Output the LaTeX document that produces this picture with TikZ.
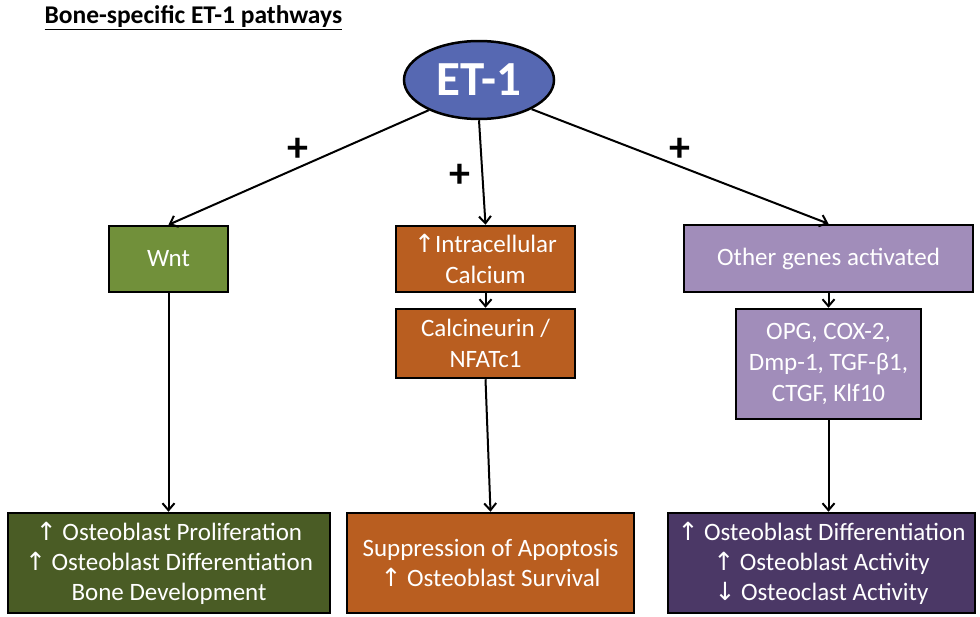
\documentclass[tikz,border=0pt]{standalone}
\usepackage{fontspec}
\setmainfont{Carlito}
\newfontfamily\arr{DejaVu Sans}
\usetikzlibrary{shapes.geometric,arrows.meta}
\definecolor{etblue}{HTML}{5668B2}
\definecolor{wntg}{HTML}{71903A}
\definecolor{dgreen}{HTML}{4A5C25}
\definecolor{orng}{HTML}{B95E20}
\definecolor{lav}{HTML}{A18DBA}
\definecolor{dpurp}{HTML}{4B3866}
\newcommand{\up}{{\arr\char"2191}}
\newcommand{\dn}{{\arr\char"2193}}
\tikzset{
  box/.style={draw=black, line width=2.5pt, text=white, align=center, inner sep=2pt, font=\fontsize{25}{31}\selectfont},
  bigbox/.style={box, font=\fontsize{25}{30}\selectfont},
  conn/.style={draw=black, line width=2pt, -{Straight Barb[length=7pt,width=12pt,line width=2pt]}},
  plus/.style={font=\bfseries\fontsize{42}{42}\selectfont}
}
\begin{document}
\begin{tikzpicture}[x=1pt,y=-1pt]
\useasboundingbox (0,0) rectangle (980,616);
\node[anchor=west, font=\bfseries\fontsize{25.5}{25.5}\selectfont] (title) at (41,18) {\underline{Bone-specific ET-1 pathways}};
\node[ellipse, draw=black, line width=2.5pt, fill=etblue, text=white, minimum width=150pt, minimum height=78pt, inner sep=0pt, font=\bfseries\fontsize{49}{49}\selectfont] (et) at (479,80) {ET-1};
\node[box, fill=wntg, minimum width=119pt, minimum height=66pt] (wnt) at (168.5,259) {Wnt};
\node[box, fill=orng, minimum width=179pt, minimum height=66pt] (ca) at (485.5,259) {\up Intracellular\\Calcium};
\node[box, fill=orng, minimum width=179pt, minimum height=69pt] (cal) at (485.5,343.5) {Calcineurin /\\NFATc1};
\node[box, fill=lav, minimum width=289pt, minimum height=67pt] (oth) at (828.5,258.5) {Other genes activated};
\node[box, fill=lav, minimum width=185pt, minimum height=110pt] (opg) at (828.5,364) {OPG, COX-2,\\Dmp-1, TGF-β1,\\CTGF, Klf10};
\node[bigbox, fill=dgreen, minimum width=322pt, minimum height=100pt] (r1) at (169,563) {\up{} Osteoblast Proliferation\\\up{} Osteoblast Differentiation\\Bone Development};
\node[bigbox, fill=orng, minimum width=287pt, minimum height=100pt] (r2) at (490.5,563) {Suppression of Apoptosis\\\up{} Osteoblast Survival};
\node[bigbox, fill=dpurp, minimum width=307pt, minimum height=100pt] (r3) at (821.5,563) {\up{} Osteoblast Differentiation\\\up{} Osteoblast Activity\\\dn{} Osteoclast Activity};
\draw[conn] (et.211) -- (wnt.north);
\draw[conn] (et.south) -- (ca.north);
\draw[conn] (et.-29) -- (oth.north);
\draw[conn] (ca.south) -- (cal.north);
\draw[conn] (oth.south) -- (opg.north);
\draw[conn] (wnt.south) -- (wnt.south |- r1.north);
\draw[conn] (cal.south) -- (r2.north);
\draw[conn] (opg.south) -- (r3.north -| opg.south);
\node[plus] (p1) at (298,150) {+};
\node[plus] (p2) at (460,176) {+};
\node[plus] (p3) at (680,150) {+};
\end{tikzpicture}
\end{document}
